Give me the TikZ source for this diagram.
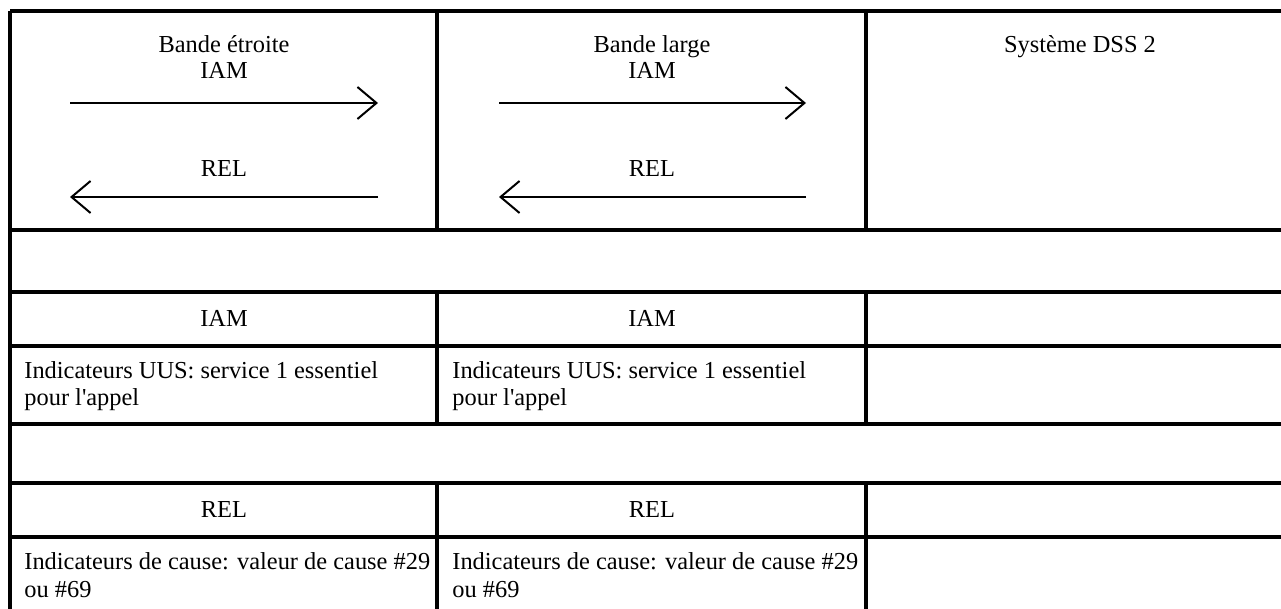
\documentclass[tikz,border=0pt]{standalone}
\usepackage{fontspec}
\setmainfont{Liberation Serif}
\usepackage{tikz}
\usetikzlibrary{arrows.meta}

\begin{document}
\begin{tikzpicture}[x=0.5pt,y=-0.5pt,
    rule/.style={line width=1.6pt},
    msg/.style={line width=1pt,-{Straight Barb[length=9.5pt,width=16pt,line width=1pt]}},
    cell/.style={inner sep=0pt,font=\fontsize{12.2pt}{13.6pt}\selectfont},
    mid/.style={cell,anchor=base},
    lft/.style={cell,anchor=base west,align=left}]
              \useasboundingbox (0,0) rectangle (1281,609);
              % frame and rules
              \draw[rule] (10,609) -- (10,11);
              \foreach \y in {11,230,292,346,424,483,537}
                \draw[rule] (10,\y) -- (1281,\y);
              \foreach \x in {437,866}{
                \draw[rule] (\x,11) -- (\x,230);
                \draw[rule] (\x,292) -- (\x,424);
                \draw[rule] (\x,483) -- (\x,609);
              }
              % first row
              \node[mid](nbTitle)at(224,53){Bande étroite};
              \node[mid](nbIam)at(224,79){IAM};
              \node[mid](nbRel)at(224,177){REL};
              \node[mid](wbTitle)at(652,53){Bande large};
              \node[mid](wbIam)at(652,79){IAM};
              \node[mid](wbRel)at(652,177){REL};
              \node[mid](dssTitle)at(1080,53){Système DSS 2};
              \coordinate(nbL)at(70,103);
              \coordinate(nbR)at(378,103);
              \coordinate(nbL2)at(70,197);
              \coordinate(nbR2)at(378,197);
              \coordinate(wbL)at(499,103);
              \coordinate(wbR)at(806,103);
              \coordinate(wbL2)at(499,197);
              \coordinate(wbR2)at(806,197);
              \draw[msg](nbL)--(nbR);
              \draw[msg](nbR2)--(nbL2);
              \draw[msg](wbL)--(wbR);
              \draw[msg](wbR2)--(wbL2);
              % IAM rows
              \node[mid](iamA)at(224,327){IAM};
              \node[mid](iamB)at(652,327){IAM};
              \node[lft](uusA)at(24,406){Indicateurs UUS: service 1 essentiel\\pour l\textquotesingle appel};
              \node[lft](uusB)at(452,406){Indicateurs UUS: service 1 essentiel\\pour l\textquotesingle appel};
              % REL rows
              \node[mid](relA)at(224,517){REL};
              \node[mid](relB)at(652,517){REL};
              \node[lft](causeA)at(24,597){Indicateurs de cause: valeur de cause \#29\\ou \#69};
              \node[lft](causeB)at(452,597){Indicateurs de cause: valeur de cause \#29\\ou \#69};
            \end{tikzpicture}
\end{document}
